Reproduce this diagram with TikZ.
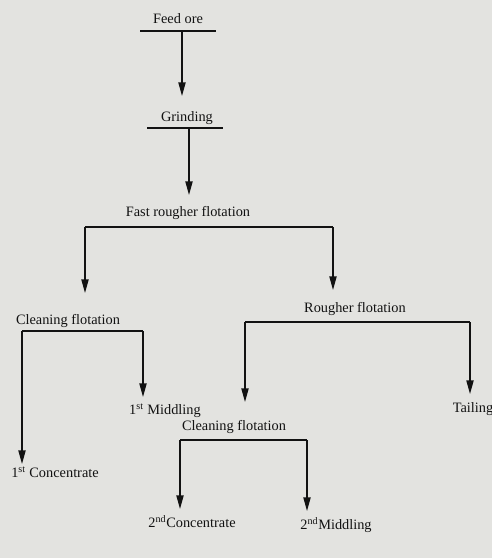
\documentclass[tikz,border=0pt]{standalone}
\usepackage{fontspec}
\setmainfont{Liberation Serif}
\usepackage{xcolor}
\definecolor{Paper}{HTML}{E3E3E0}
\definecolor{Ink}{HTML}{121212}
\usetikzlibrary{arrows.meta, positioning}
\tikzset{
  lbl/.style={inner sep=1pt, font=\fontsize{10.2}{11}\selectfont, text=Ink},
  bar/.style={line width=1.7pt, color=Ink},
  flow/.style={-{Triangle[length=3.4mm, width=1.8mm]}, line width=0.9pt, color=Ink},
}

\begin{document}
\begin{tikzpicture}[x=0.025cm, y=-0.025cm]

% page
\fill[Paper] (0,0) rectangle (492,558);
\useasboundingbox (0,0) rectangle (492,558);

% Feed ore
\node[lbl] (feed) at (178,19) {Feed ore};
\coordinate (feedL) at (140,31);
\coordinate (feedR) at (216,31);
\coordinate (feedOut) at (182,31);
\draw[bar] (feedL) -- (feedR);

% Grinding
\node[lbl] (grind) at (187,118) {Grinding};
\coordinate (grindIn) at (182,96);
\coordinate (grindL) at (147,128);
\coordinate (grindR) at (223,128);
\coordinate (grindOut) at (189,128);
\draw[bar] (grindL) -- (grindR);
\draw[flow] (feedOut) -- (grindIn);

% Fast rougher flotation
\node[lbl] (fast) at (188,213) {Fast rougher flotation};
\coordinate (fastIn) at (189,195);
\coordinate (fastL) at (85,227);
\coordinate (fastR) at (333,227);
\draw[bar] (fastL) -- (fastR);
\draw[flow] (grindOut) -- (fastIn);

% Cleaning flotation (first)
\node[lbl] (clean1) at (68,321) {Cleaning flotation};
\coordinate (clean1In) at (85,293);
\coordinate (clean1L) at (22,331);
\coordinate (clean1R) at (143,331);
\draw[bar] (clean1L) -- (clean1R);
\draw[flow] (fastL) -- (clean1In);

% Rougher flotation
\node[lbl] (rough) at (355,309) {Rougher flotation};
\coordinate (roughIn) at (333,290);
\coordinate (roughL) at (245,322);
\coordinate (roughR) at (470,322);
\draw[bar] (roughL) -- (roughR);
\draw[flow] (fastR) -- (roughIn);

% First products
\node[lbl] (conc1) at (55,472) {1\textsuperscript{st} Concentrate};
\node[lbl] (midd1) at (165,411) {1\textsuperscript{st} Middling};
\coordinate (conc1In) at (22,464);
\coordinate (midd1In) at (143,397);
\draw[flow] (clean1L) -- (conc1In);
\draw[flow] (clean1R) -- (midd1In);

% Tailing
\node[lbl] (tail) at (473,409) {Tailing};
\coordinate (tailIn) at (470,394);
\draw[flow] (roughR) -- (tailIn);

% Cleaning flotation (second)
\node[lbl] (clean2) at (234,427) {Cleaning flotation};
\coordinate (clean2In) at (245,402);
\coordinate (clean2L) at (180,440);
\coordinate (clean2R) at (307,440);
\draw[bar] (clean2L) -- (clean2R);
\draw[flow] (roughL) -- (clean2In);

% Second products
\node[lbl] (conc2) at (192,522) {2\textsuperscript{nd}Concentrate};
\node[lbl] (midd2) at (336,525) {2\textsuperscript{nd}Middling};
\coordinate (conc2In) at (180,509);
\coordinate (midd2In) at (307,511);
\draw[flow] (clean2L) -- (conc2In);
\draw[flow] (clean2R) -- (midd2In);

\end{tikzpicture}
\end{document}
